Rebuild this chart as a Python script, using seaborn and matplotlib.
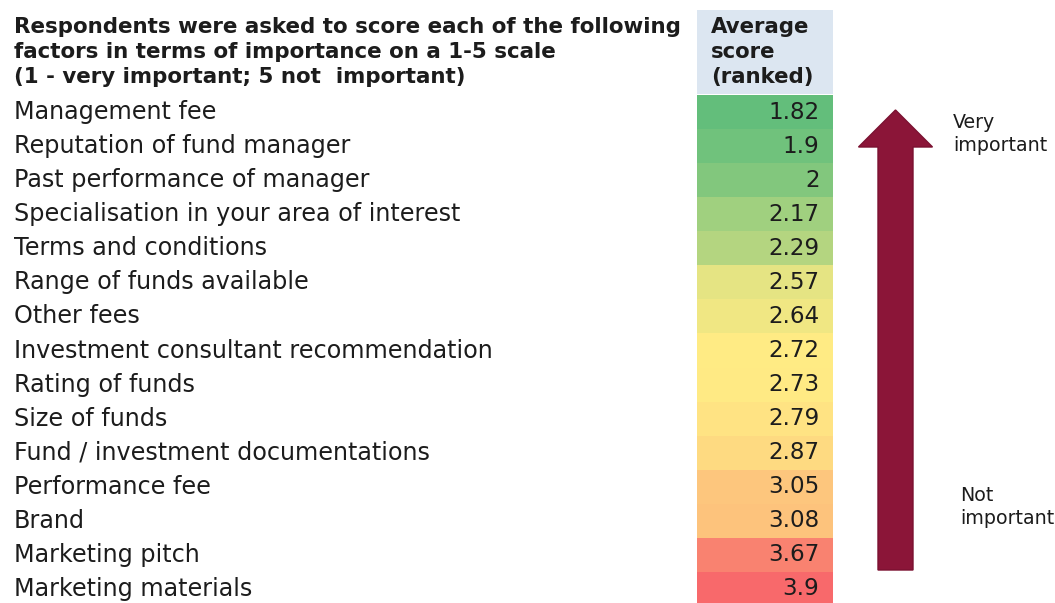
import matplotlib

matplotlib.use("Agg")
import matplotlib.pyplot as plt
import numpy as np
import pandas as pd
import seaborn as sns
from matplotlib.colors import LinearSegmentedColormap
from matplotlib.patches import FancyArrow, Rectangle
from matplotlib.transforms import blended_transform_factory

# Data
FACTORS = [
    "Management fee",
    "Reputation of fund manager",
    "Past performance of manager",
    "Specialisation in your area of interest",
    "Terms and conditions",
    "Range of funds available",
    "Other fees",
    "Investment consultant recommendation",
    "Rating of funds",
    "Size of funds",
    "Fund / investment documentations",
    "Performance fee",
    "Brand",
    "Marketing pitch",
    "Marketing materials",
]
SCORES = [1.82, 1.9, 2, 2.17, 2.29, 2.57, 2.64, 2.72, 2.73, 2.79, 2.87,
          3.05, 3.08, 3.67, 3.9]
HEADER = (
    "Respondents were asked to score each of the following\n"
    "factors in terms of importance on a 1-5 scale\n"
    "(1 - very important; 5 not  important)"
)
COLUMN_HEADER = "Average\nscore\n(ranked)"

TEXT = "#1c1c1c"
W, H = 1055, 603

# Excel style 3-colour scale: min green, median yellow, max red
lo, mid, hi = min(SCORES), float(np.median(SCORES)), max(SCORES)
cmap = LinearSegmentedColormap.from_list(
    "excel3",
    [(0.0, "#63be7b"), ((mid - lo) / (hi - lo), "#ffeb84"), (1.0, "#f8696b")],
)

plt.rcParams["font.family"] = ["DejaVu Sans"]
fig = plt.figure(figsize=(W / 100, H / 100), dpi=100)
fig.patch.set_facecolor("white")

# Overlay in pixel coordinates for header box and arrow
ov = fig.add_axes([0, 0, 1, 1])
ov.set_xlim(0, W)
ov.set_ylim(H, 0)
ov.axis("off")

# Score column as a one-column heatmap
ax = fig.add_axes([697 / W, (H - 606) / H, 136 / W, 511 / H])
df = pd.DataFrame({"Average score": SCORES}, index=FACTORS)
sns.heatmap(
    df, ax=ax, cmap=cmap, vmin=lo, vmax=hi, cbar=False,
    xticklabels=False, yticklabels=False,
)
ax.set_xlabel("")
ax.set_ylabel("")

for i, v in enumerate(SCORES):
    ax.text(0.9, i + 0.5, f"{v:g}", ha="right", va="center",
            fontsize=16.6, color=TEXT)

# Row labels tied to the heatmap rows
trans = blended_transform_factory(fig.transFigure, ax.transData)
for i, label in enumerate(FACTORS):
    ax.text(14 / W, i + 0.5, label, transform=trans, ha="left",
            va="center", fontsize=17.2, color=TEXT, clip_on=False)

# Header
ov.add_patch(Rectangle((697, 10), 136, 84, facecolor="#dce6f1",
                       edgecolor="none"))
ov.text(711, 17, COLUMN_HEADER, ha="left", va="top", fontsize=15.3,
        fontweight="bold", color=TEXT, linespacing=1.32)
ov.text(14, 17, HEADER, ha="left", va="top", fontsize=15.4,
        fontweight="bold", color=TEXT, linespacing=1.32)

# Importance arrow
ov.add_patch(FancyArrow(895.5, 570, 0, -460, width=35, head_width=74,
                        head_length=37, length_includes_head=True,
                        facecolor="#8b1538", edgecolor="#7a1030", lw=1))
ov.text(953, 113, "Very\nimportant", ha="left", va="top", fontsize=13.7,
        color=TEXT, linespacing=1.25)
ov.text(960, 486, "Not\nimportant", ha="left", va="top", fontsize=13.7,
        color=TEXT, linespacing=1.25)

fig.savefig("out.png", dpi=100)
